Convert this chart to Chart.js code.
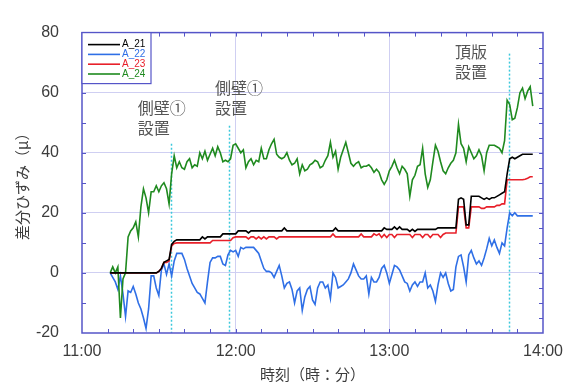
<!DOCTYPE html>
<html>
<head>
<meta charset="utf-8">
<script src="https://cdn.jsdelivr.net/npm/chart.js@4.4.1/dist/chart.umd.min.js"></script>
<style>
  html, body { margin: 0; padding: 0; background: #ffffff; }
  #wrap { width: 575px; height: 383px; }
</style>
</head>
<body>
<div id="wrap"><canvas id="chart" width="575" height="383"></canvas></div>
<script>
// Readings are taken once a minute; the first one is at 11:11.
const firstMinute = 11;          // minutes after 11:00

const seriesNames = ['A_21', 'A_22', 'A_23', 'A_24'];

const a21 = [
  0, 0, 0, 0, 0, 0, 0, 0, 0, 0,
  0, 0, 0, 0, 0, 0, 0, 0, 0, 0.5,
  1.5, 3.5, 4, 4.5, 9.5, 10.5, 11, 11, 11, 11,
  11, 11, 11, 11, 11, 11, 12, 11.3, 12, 12,
  12, 12, 12, 12, 13, 13, 13, 13, 13, 13,
  14, 14, 14, 14, 13.3, 14, 14, 14, 14, 14,
  14, 14, 14, 14, 14, 14, 14, 14, 15, 14,
  14, 14, 14, 14, 14, 14, 14, 14, 14, 14,
  14, 14, 14, 14, 14, 14, 14, 14, 15, 14,
  14, 14, 14, 14, 14, 14, 14, 14, 14, 14,
  14, 14, 14, 14, 14, 14, 14, 15, 14.5, 14.5,
  14.5, 15.3, 14.5, 15.3, 14.5, 14.5, 14.5, 13.8, 14.5, 13.8,
  14.5, 14.5, 14.5, 14.5, 14.5, 14.5, 14.5, 14.5, 15, 15,
  15, 15, 15, 15, 15, 15, 24.5, 25, 24.5, 16,
  16, 25.5, 25.5, 25.5, 25.5, 25, 24.5, 25, 24.5, 25,
  25, 25.5, 26, 26.5, 27, 33, 38, 38.5, 38, 38.5,
  39, 39.5, 39.5, 39.5, 39.5, 39.5
];

const a22 = [
  0, -1.5, -3, -5.5, -1, -7, -14.5, -6, -6.5, -4.5,
  -7, -10, -12, -15, -18.5, -12, -1, -1, -5, -7.5,
  1, 3, -0.5, 3, -1, 4, 6.5, 6.5, 6.5, 4.5,
  1.5, -1, -3.5, -5, -6.5, -7, -8.5, -10, -3, 3.5,
  5, 5, 5.5, 5.5, 3, 2.5, 6, 7.5, 7, 7.5,
  5.5, 8.5, 8, 8.5, 8.5, 8.5, 8.5, 7.5, 6.5, 4,
  1.5, 0.5, 0.5, 0, -1.5, 0.5, 2.5, -1, -5, -3.5,
  -3, -5.5, -10, -6, -5, -12.5, -8, -5.5, -4.5, -9,
  -10.5, -5, -3, -3, -5, -4, -8.5, 0, -1.5, -5,
  -4.5, -4, -3, -2, 0, 3, 1, -1, -2, -2,
  -1, -7, -1.5, -3, -3, -1.5, 1.5, 2.5, 0, -3.5,
  -0.5, 2.5, 2, 1, -1, -3, -3.5, -6, -4, -3,
  -4.5, -3, -3, 0, -5, -4, -6, -9.5, -4, 0,
  -1.5, 0, -3.5, -6, -5.5, 2, 5.5, 6, 2, -3,
  6, 7.5, 5, 3, 4, 2.5, 5, 8, 11.5, 9,
  11, 8.5, 6.5, 10, 9, 15, 20, 19, 20, 19,
  19, 19, 19, 19, 19, 19
];

const a23 = [
  0, 0, 0, 0, 0, 0, 0, 0, 0, 0,
  0, 0, 0, 0, 0, 0, 0, 0, 0, 0.5,
  1.5, 3.5, 3.5, 4, 9, 9.8, 10, 10, 10, 10,
  10, 10, 10, 10, 10, 10, 10, 10, 10, 10,
  10.8, 10.8, 10.8, 10.8, 10.8, 10.8, 10.8, 10.8, 11.7, 12,
  12, 12, 12, 12, 11.3, 12, 12, 11.3, 12, 11.3,
  12, 11.3, 12, 12, 12, 11.3, 12, 12, 12, 12,
  12, 12, 12, 12, 12, 12, 12, 12, 12, 12,
  12, 12, 12, 12, 12, 12, 12, 13, 12, 12,
  12, 12, 12, 12, 12, 12, 12, 12, 13, 12,
  12, 12, 12, 13, 12.5, 13, 11.8, 12.8, 11.8, 12.8,
  12.8, 11.8, 12.8, 12.8, 12.8, 12.8, 12.8, 12.8, 11.8, 12.8,
  12.8, 12.8, 11.8, 12.8, 12.8, 11.8, 12.8, 12.8, 12.8, 11.8,
  12.8, 13.3, 13.3, 13.3, 13.3, 13.3, 22, 22, 22, 15,
  15, 22, 22, 22, 22, 21.5, 21.5, 22, 22, 22,
  22, 22.5, 22.5, 23, 23, 31, 31, 31, 31, 31,
  31, 31, 31.2, 31.5, 32, 32
];

const a24 = [
  0, 2, 0, 2, -15, -2, 0, 12, 14, 15,
  17, 12, 22, 28, 25, 20, 27, 27, 29, 27,
  29, 30, 28, 23, 33, 39, 35, 37, 35, 34.5,
  37, 38, 35, 36, 35.5, 40, 38, 40.5, 37.5, 39.5,
  41.5, 39, 42, 40, 37, 37.5, 37, 38, 42.5, 43,
  41.5, 40, 41, 35, 37, 38, 36, 37.5, 37, 41.5,
  38, 38, 41, 43, 44.5, 39.5, 38.5, 38, 38.5, 40,
  37.5, 36, 36.5, 38, 33, 36, 34, 34.5, 36, 36.5,
  37.5, 37, 35, 35.5, 37.5, 39, 43.5, 38.5, 40.5, 34.5,
  38.5, 41, 43.5, 40, 36.5, 35.5, 36.5, 37, 35, 35.5,
  35.5, 36, 35, 33.5, 34.5, 33.5, 31, 29.5, 31, 34,
  35.5, 37.5, 35, 33, 35.5, 34.5, 33, 25.5, 31, 32.5,
  35.5, 36, 41.5, 33, 28.5, 31, 37, 42.5, 40.5, 37,
  34, 33, 35, 36.5, 37.5, 40, 49.5, 43, 41.5, 37,
  42, 40, 38, 39, 41, 39, 34, 40, 42.5, 42.5,
  42.5, 42, 41.5, 40, 44, 57.5, 56, 51, 51.5, 55,
  60, 61.5, 58, 60.5, 62, 55.5
];

const seriesValues = [a21, a22, a23, a24];
const seriesColors = ['#000000', '#2f6fe6', '#e8202a', '#1f8a1f'];

// axis ticks
const xTickLabels = ['11:00', '12:00', '13:00', '14:00'];   // every 60 min
const yTickValues = [-20, 0, 20, 40, 60, 80];

// construction events (minutes after 11:00) and their captions
const eventMinutes = [34.7, 57.5, 166.8];
const eventCaptions = [['側壁①', '設置'], ['側壁①', '設置'], ['頂版', '設置']];
// where each dotted marker starts (in strain units) and where the caption sits
const eventLineTop = [43, 49, 73];
const captionAnchor = [[21.8, 55], [51.9, 61.5], [145.6, 73.6]];

const FONT = "'Liberation Sans', 'Noto Sans CJK JP', sans-serif";
const CJK = "'Noto Sans CJK JP', sans-serif";
const frameColor = '#5555c8';
const gridColor = '#cfcff2';
const textColor = '#3c3c3c';

const datasets = seriesNames.map((name, i) => ({
  label: name,
  data: seriesValues[i].map((v, k) => ({ x: firstMinute + k, y: v })),
  borderColor: seriesColors[i],
  backgroundColor: seriesColors[i],
  borderWidth: 1.6,
  pointRadius: 0,
  tension: 0,
  fill: false
}));

// draw order: black on top
datasets.forEach((d, i) => { d.order = i === 0 ? 0 : 4 - i; });

const framePlugin = {
  id: 'frameAndMarks',
  beforeDatasetsDraw(chart) {
    const { ctx, chartArea: a, scales: { x, y } } = chart;
    ctx.save();
    ctx.strokeStyle = '#3cc8dc';
    ctx.lineWidth = 1.5;
    ctx.setLineDash([2, 2]);
    eventMinutes.forEach((m, i) => {
      const px = Math.round(x.getPixelForValue(m)) + 0.5;
      ctx.beginPath();
      ctx.moveTo(px, y.getPixelForValue(eventLineTop[i]));
      ctx.lineTo(px, a.bottom);
      ctx.stroke();
    });
    ctx.restore();
  },
  afterDatasetsDraw(chart) {
    const { ctx, chartArea: a, scales: { x, y } } = chart;
    ctx.save();
    // inward tick marks
    ctx.strokeStyle = frameColor;
    ctx.lineWidth = 1;
    for (let m = 10; m < 180; m += 10) {
      const px = Math.round(x.getPixelForValue(m)) + 0.5;
      ctx.beginPath();
      ctx.moveTo(px, a.bottom); ctx.lineTo(px, a.bottom - 4);
      ctx.moveTo(px, a.top); ctx.lineTo(px, a.top + 4);
      ctx.stroke();
    }
    for (let v = -10; v < 80; v += 10) {
      const py = Math.round(y.getPixelForValue(v)) + 0.5;
      ctx.beginPath();
      ctx.moveTo(a.left, py); ctx.lineTo(a.left + 4, py);
      ctx.stroke();
    }
    for (let v = -15; v < 80; v += 5) {
      const py = Math.round(y.getPixelForValue(v)) + 0.5;
      ctx.beginPath();
      ctx.moveTo(a.right, py); ctx.lineTo(a.right - 4, py);
      ctx.stroke();
    }
    // frame
    ctx.lineWidth = 1.5;
    ctx.strokeRect(a.left, a.top, a.right - a.left, a.bottom - a.top);

    // legend box
    const lx = a.left, ly = a.top, lw = 69, lh = 51;
    ctx.fillStyle = '#ffffff';
    ctx.fillRect(lx, ly, lw, lh);
    ctx.lineWidth = 1.2;
    ctx.strokeRect(lx, ly, lw, lh);
    ctx.font = '10px ' + FONT;
    ctx.textBaseline = 'middle';
    ctx.textAlign = 'left';
    seriesNames.forEach((name, i) => {
      const ry = ly + 12 + i * 9.8;
      ctx.strokeStyle = seriesColors[i];
      ctx.lineWidth = 1.6;
      ctx.beginPath();
      ctx.moveTo(lx + 6, ry); ctx.lineTo(lx + 38, ry);
      ctx.stroke();
      ctx.fillStyle = seriesColors[i];
      ctx.fillText(name, lx + 40, ry);
    });

    // event captions
    ctx.fillStyle = '#555555';
    ctx.font = '16px ' + CJK;
    ctx.textBaseline = 'middle';
    eventCaptions.forEach((lines, i) => {
      const px = x.getPixelForValue(captionAnchor[i][0]);
      const py = y.getPixelForValue(captionAnchor[i][1]);
      lines.forEach((t, j) => ctx.fillText(t, px, py + j * 20));
    });
    ctx.restore();
  }
};

new Chart(document.getElementById('chart'), {
  type: 'line',
  data: { datasets },
  options: {
    responsive: false,
    animation: false,
    devicePixelRatio: 1,
    layout: { padding: { top: 20, right: 32, left: 0, bottom: 0 } },
    plugins: { legend: { display: false }, tooltip: { enabled: false } },
    scales: {
      x: {
        type: 'linear',
        min: 0,
        max: 180,
        afterFit(s) { s.height = 50; },
        ticks: {
          stepSize: 60,
          autoSkip: false,
          maxRotation: 0,
          padding: 9,
          color: textColor,
          font: { family: FONT, size: 16 },
          callback: (v) => xTickLabels[Math.round(v / 60)]
        },
        grid: {
          drawTicks: false,
          lineWidth: 1,
          color: (c) => (c.tick && c.tick.value > 0 && c.tick.value < 180) ? gridColor : 'rgba(0,0,0,0)'
        },
        border: { display: false },
        title: {
          display: true,
          text: '時刻（時：分）',
          color: textColor,
          font: { family: CJK, size: 15 },
          padding: { top: 0, bottom: 0 }
        }
      },
      y: {
        min: yTickValues[0],
        max: yTickValues[yTickValues.length - 1],
        afterFit(s) { s.width = 82; },
        ticks: {
          stepSize: 20,
          padding: 23,
          color: textColor,
          font: { family: FONT, size: 16 },
          callback: (v) => yTickValues.includes(v) ? String(v) : ''
        },
        grid: {
          drawTicks: false,
          lineWidth: 1,
          color: (c) => (c.tick && c.tick.value > -20 && c.tick.value < 80) ? gridColor : 'rgba(0,0,0,0)'
        },
        border: { display: false },
        title: {
          display: true,
          text: '差分ひずみ（μ）',
          color: textColor,
          font: { family: CJK, size: 15 },
          padding: { top: 13, bottom: 0 }
        }
      }
    }
  },
  plugins: [framePlugin]
});
</script>
</body>
</html>
